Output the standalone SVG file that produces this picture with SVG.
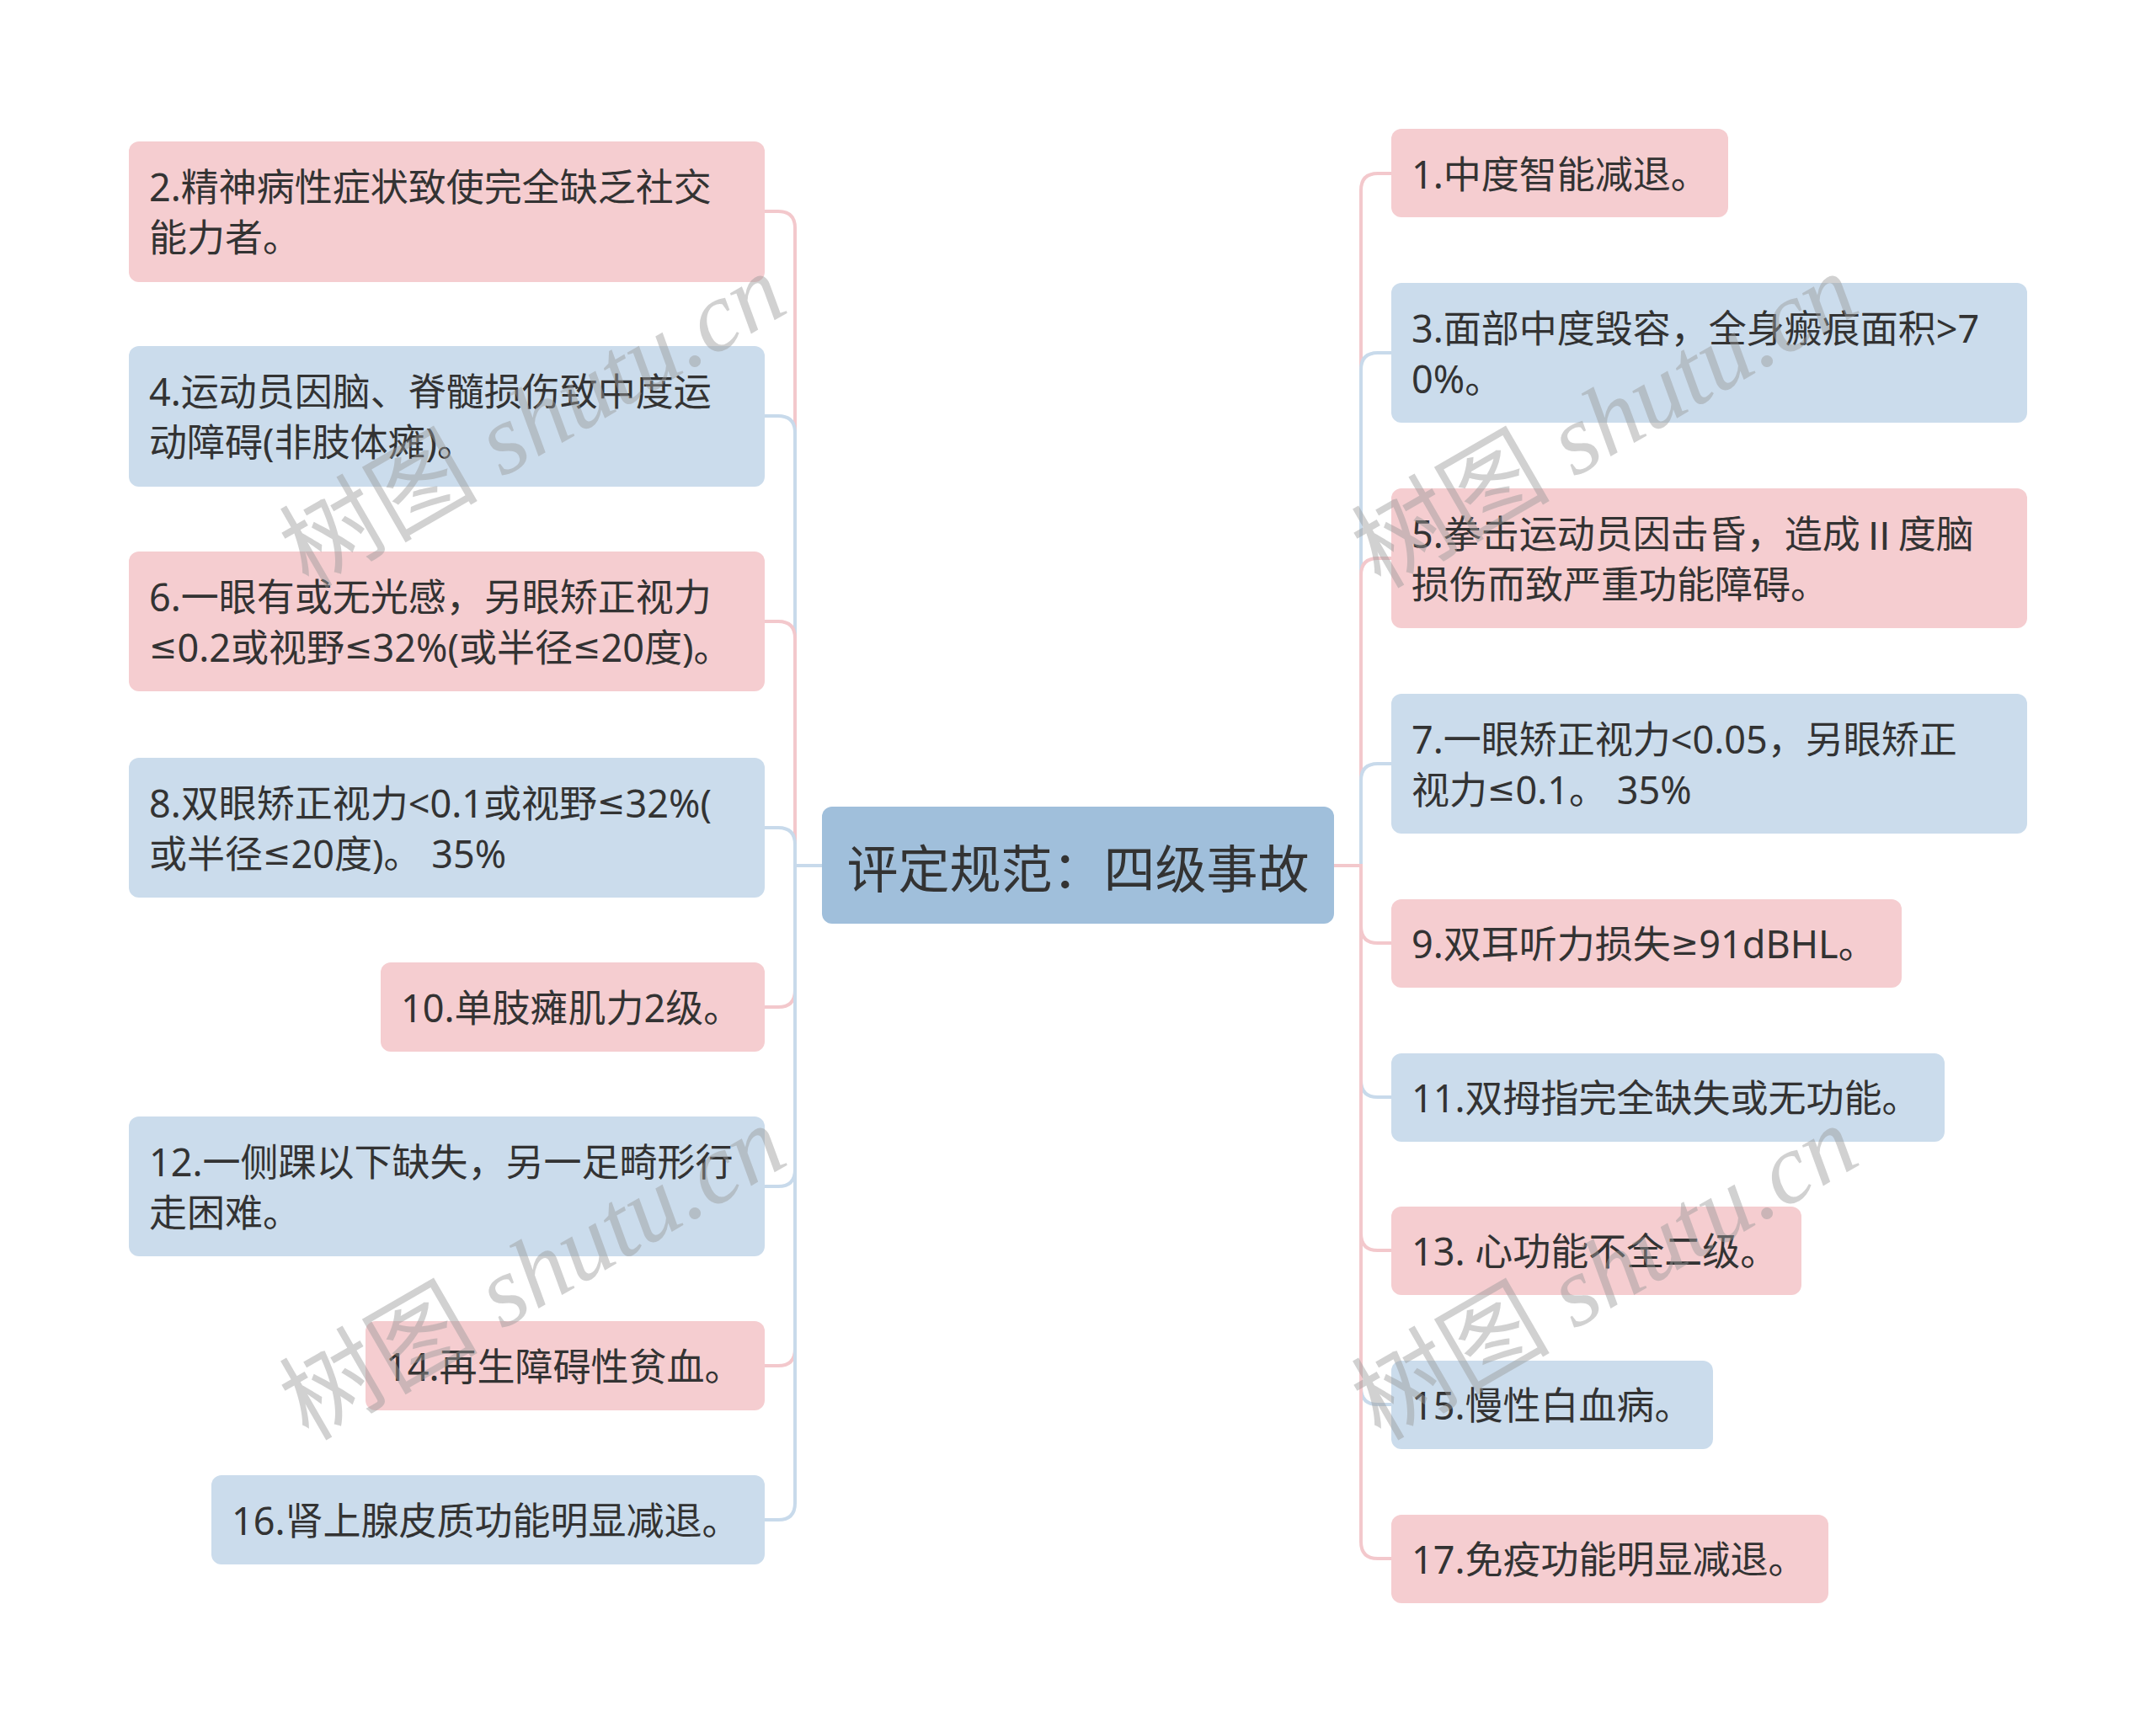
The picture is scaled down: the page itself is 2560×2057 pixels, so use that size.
<svg xmlns="http://www.w3.org/2000/svg" width="2560" height="2057" viewBox="0 0 2560 2057">
<style>
.pink{fill:#f5cdd0}
.blue{fill:#cbdcec}
.root{fill:#a0bfdb}
.t{font-family:"Noto Sans","Noto Sans CJK SC",sans-serif;font-size:45px;fill:#333333;dominant-baseline:central}
.tt{font-family:"Noto Sans CJK SC","Noto Sans",sans-serif;font-size:61px;fill:#333333;dominant-baseline:central;text-anchor:middle}
.m{font-family:"DejaVu Sans",sans-serif;font-size:40px}
.cjk{font-family:"Noto Sans CJK SC",sans-serif}
.cp{fill:none;stroke:#f3c8cc;stroke-width:4}
.cb{fill:none;stroke:#c8daeb;stroke-width:4}
.wm{font-family:"Liberation Serif","Noto Sans CJK SC",serif;font-size:118px;fill:#9a9a9a;opacity:0.45}
</style>
<rect width="2560" height="2057" fill="#ffffff"/>
<g id="connectors">
<path class="cp" d="M976 1028 H944 V271 Q944 251 924 251 H908"/>
<path class="cb" d="M976 1028 H944 V514 Q944 494 924 494 H908"/>
<path class="cp" d="M976 1028 H944 V758 Q944 738 924 738 H908"/>
<path class="cb" d="M976 1028 H944 V1003 Q944 983 924 983 H908"/>
<path class="cp" d="M976 1028 H944 V1176 Q944 1196 924 1196 H908"/>
<path class="cb" d="M976 1028 H944 V1389 Q944 1409 924 1409 H908"/>
<path class="cp" d="M976 1028 H944 V1602 Q944 1622 924 1622 H908"/>
<path class="cb" d="M976 1028 H944 V1785 Q944 1805 924 1805 H908"/>
<path class="cp" d="M1584 1028 H1616 V226 Q1616 206 1636 206 H1652"/>
<path class="cb" d="M1584 1028 H1616 V439 Q1616 419 1636 419 H1652"/>
<path class="cp" d="M1584 1028 H1616 V683 Q1616 663 1636 663 H1652"/>
<path class="cb" d="M1584 1028 H1616 V927 Q1616 907 1636 907 H1652"/>
<path class="cp" d="M1584 1028 H1616 V1100 Q1616 1120 1636 1120 H1652"/>
<path class="cb" d="M1584 1028 H1616 V1283 Q1616 1303 1636 1303 H1652"/>
<path class="cp" d="M1584 1028 H1616 V1465 Q1616 1485 1636 1485 H1652"/>
<path class="cb" d="M1584 1028 H1616 V1648 Q1616 1668 1636 1668 H1652"/>
<path class="cp" d="M1584 1028 H1616 V1831 Q1616 1851 1636 1851 H1652"/>
</g>
<g id="root"><rect class="root" x="976" y="958" width="608" height="139" rx="12"/><text class="tt" x="1280" y="1028">评定规范：四级事故</text></g>
<g id="n2"><rect class="pink" x="153" y="168" width="755" height="167" rx="12"/><text class="t" x="177" y="221">2.精神病性症状致使完全缺乏社交</text><text class="t" x="177" y="281">能力者。</text></g>
<g id="n4"><rect class="blue" x="153" y="411" width="755" height="167" rx="12"/><text class="t" x="177" y="464">4.运动员因脑、脊髓损伤致中度运</text><text class="t" x="177" y="524">动障碍(非肢体瘫)。</text></g>
<g id="n6"><rect class="pink" x="153" y="655" width="755" height="166" rx="12"/><text class="t" x="177" y="708">6.一眼有或无光感，另眼矫正视力</text><text class="t" x="177" y="768"><tspan class="m">≤</tspan>0.2或视野<tspan class="m">≤</tspan>32%(或半径<tspan class="m">≤</tspan>20度)。</text></g>
<g id="n8"><rect class="blue" x="153" y="900" width="755" height="166" rx="12"/><text class="t" x="177" y="953">8.双眼矫正视力&lt;0.1或视野<tspan class="m">≤</tspan>32%(</text><text class="t" x="177" y="1013">或半径<tspan class="m">≤</tspan>20度)。 35%</text></g>
<g id="n10"><rect class="pink" x="452" y="1143" width="456" height="106" rx="12"/><text class="t" x="476" y="1196">10.单肢瘫肌力2级。</text></g>
<g id="n12"><rect class="blue" x="153" y="1326" width="755" height="166" rx="12"/><text class="t" x="177" y="1379">12.一侧踝以下缺失，另一足畸形行</text><text class="t" x="177" y="1439">走困难。</text></g>
<g id="n14"><rect class="pink" x="434" y="1569" width="474" height="106" rx="12"/><text class="t" x="458" y="1622">14.再生障碍性贫血。</text></g>
<g id="n16"><rect class="blue" x="251" y="1752" width="657" height="106" rx="12"/><text class="t" x="275" y="1805">16.肾上腺皮质功能明显减退。</text></g>
<g id="n1"><rect class="pink" x="1652" y="153" width="400" height="105" rx="12"/><text class="t" x="1676" y="206">1.中度智能减退。</text></g>
<g id="n3"><rect class="blue" x="1652" y="336" width="755" height="166" rx="12"/><text class="t" x="1676" y="389">3.面部中度毁容，全身瘢痕面积&gt;7</text><text class="t" x="1676" y="449">0%。</text></g>
<g id="n5"><rect class="pink" x="1652" y="580" width="755" height="166" rx="12"/><text class="t" x="1676" y="633">5.拳击运动员因击昏，造成<tspan class="cjk">Ⅱ</tspan>度脑</text><text class="t" x="1676" y="693">损伤而致严重功能障碍。</text></g>
<g id="n7"><rect class="blue" x="1652" y="824" width="755" height="166" rx="12"/><text class="t" x="1676" y="877">7.一眼矫正视力&lt;0.05，另眼矫正</text><text class="t" x="1676" y="937">视力<tspan class="m">≤</tspan>0.1。 35%</text></g>
<g id="n9"><rect class="pink" x="1652" y="1068" width="606" height="105" rx="12"/><text class="t" x="1676" y="1120">9.双耳听力损失<tspan class="m">≥</tspan>91dBHL。</text></g>
<g id="n11"><rect class="blue" x="1652" y="1251" width="657" height="105" rx="12"/><text class="t" x="1676" y="1303">11.双拇指完全缺失或无功能。</text></g>
<g id="n13"><rect class="pink" x="1652" y="1433" width="487" height="105" rx="12"/><text class="t" x="1676" y="1485">13. 心功能不全二级。</text></g>
<g id="n15"><rect class="blue" x="1652" y="1616" width="382" height="105" rx="12"/><text class="t" x="1676" y="1668">15.慢性白血病。</text></g>
<g id="n17"><rect class="pink" x="1652" y="1799" width="519" height="105" rx="12"/><text class="t" x="1676" y="1851">17.免疫功能明显减退。</text></g>
<g id="watermarks">
<text class="wm" transform="translate(366 700) rotate(-30)">树图 <tspan font-style="italic">shutu.cn</tspan></text>
<text class="wm" transform="translate(366 1712) rotate(-30)">树图 <tspan font-style="italic">shutu.cn</tspan></text>
<text class="wm" transform="translate(1639 700) rotate(-30)">树图 <tspan font-style="italic">shutu.cn</tspan></text>
<text class="wm" transform="translate(1639 1712) rotate(-30)">树图 <tspan font-style="italic">shutu.cn</tspan></text>
</g>
</svg>
